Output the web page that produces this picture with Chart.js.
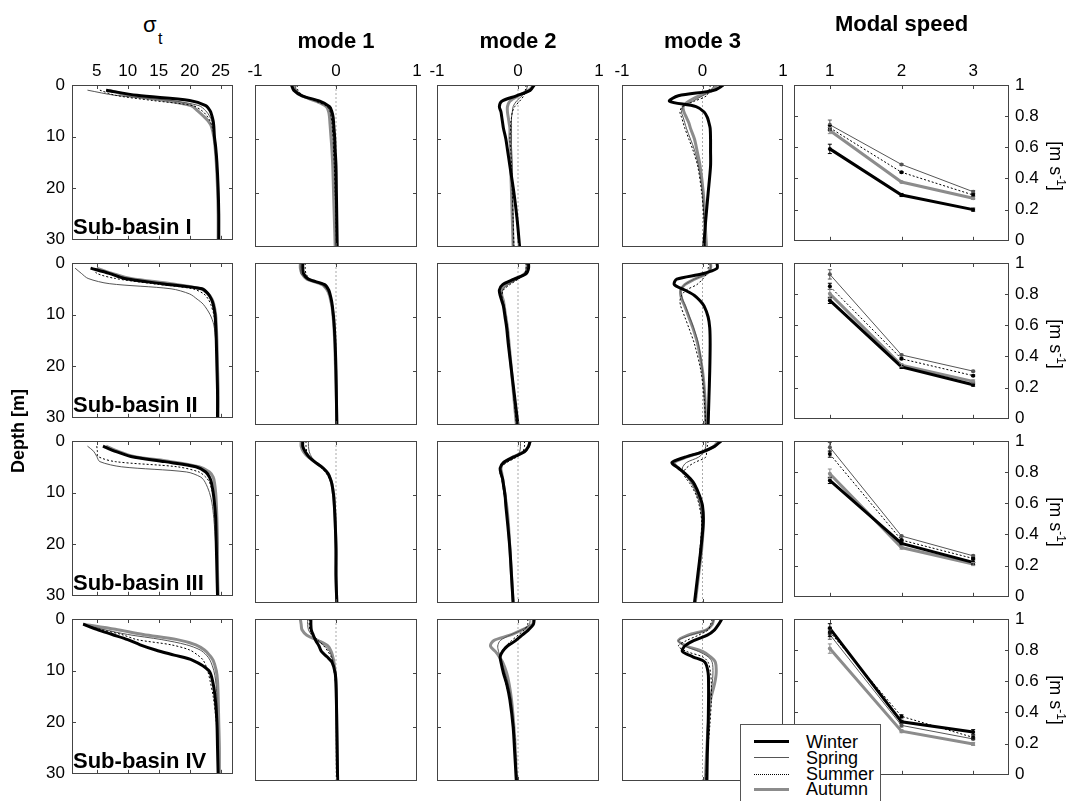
<!DOCTYPE html>
<html>
<head>
<meta charset="utf-8">
<script src="https://cdn.jsdelivr.net/npm/chart.js@4.4.1/dist/chart.umd.min.js"></script>
<style>
  html, body { margin: 0; padding: 0; background: #fff; }
  #fig { position: relative; width: 1075px; height: 801px; overflow: hidden;
         font-family: "Liberation Sans", Arial, Helvetica, sans-serif; color: #000; }
  #fig canvas { position: absolute; }
  .t { position: absolute; white-space: nowrap; line-height: 1; }
  .b { font-weight: bold; }
  #legend { position: absolute; left: 740px; top: 724px; width: 139px; height: 100px;
            background: #fff; border: 1px solid #555; z-index: 5; }
  #legend .sw { position: absolute; left: 13px; width: 35px; height: 0; }
  #legend .lt { position: absolute; left: 65px; font-size: 18px; line-height: 18px; }
</style>
</head>
<body>
<div id="fig"></div>
<script>
// depth levels (m) shared by all profiles
const depths = [0, 1, 2, 3, 4, 5, 6, 7, 8, 10, 12, 15, 20, 25, 30];
const seasons = ['Winter', 'Spring', 'Summer', 'Autumn'];
const basins = ['Sub-basin I', 'Sub-basin II', 'Sub-basin III', 'Sub-basin IV'];
const modes = [1, 2, 3];

// sigma-t profiles, rows = Winter, Spring, Summer, Autumn
const sigmaI = [
  [null, 6.5, 11.5, 20, 22.6, 23.3, 23.6, 23.8, 23.9, 24.0, 24.2, 24.4, 24.6, 24.7, 24.7],
  [null, 3.5, 8, 17, 21.5, 22.6, 23.2, 23.6, 23.8, 24.0, 24.2, 24.4, 24.6, 24.7, 24.7],
  [null, 5.5, 8, 14, 20.5, 22, 22.8, 23.3, 23.6, 24.0, 24.2, 24.4, 24.6, 24.7, 24.7],
  [null, 7, 10, 16, 20.2, 21.3, 22.2, 23, 23.5, 23.9, 24.1, 24.3, 24.5, 24.6, 24.6]
];
const sigmaII = [
  [null, 4, 7, 9.5, 15.5, 22, 23.0, 23.5, 23.8, 24.1, 24.2, 24.3, 24.4, 24.5, 24.5],
  [null, 1.5, 2.5, 3.6, 7, 17, 20, 21.2, 22.2, 23.3, 23.9, 24.2, 24.4, 24.5, 24.5],
  [null, 4.5, 5, 8, 14, 20.5, 22.3, 23, 23.4, 23.9, 24.1, 24.3, 24.4, 24.5, 24.5],
  [null, 5, 7.5, 10.5, 17, 21.8, 23, 23.6, 23.9, 24.2, 24.3, 24.4, 24.5, 24.6, 24.6]
];
const sigmaIII = [
  [null, 6, 8, 10.5, 16, 21, 22.6, 23.2, 23.5, 23.8, 24, 24.2, 24.3, 24.4, 24.5],
  [null, 3.5, 4.5, 5, 5.5, 9, 19.5, 21.8, 22.5, 23.2, 23.6, 23.9, 24.2, 24.4, 24.5],
  [null, 5, 5.1, 5.2, 8, 18, 21.5, 22.6, 23.2, 23.7, 24, 24.2, 24.3, 24.4, 24.5],
  [null, 6.5, 8.5, 11, 17, 21.5, 23.2, 23.8, 24, 24.2, 24.3, 24.4, 24.5, 24.5, 24.6]
];
const sigmaIV = [
  [null, 2.8, 5, 7.5, 10, 12, 14.5, 17.5, 20.5, 23.1, 23.7, 24.1, 24.4, 24.5, 24.6],
  [null, 2.8, 6, 10, 15.5, 19.5, 21.7, 22.7, 23.3, 23.9, 24.2, 24.4, 24.5, 24.6, 24.6],
  [null, 2.8, 5.5, 9, 11.5, 17, 20, 21.3, 22.2, 22.9, 23.3, 23.8, 24.3, 24.5, 24.6],
  [null, 2.8, 8, 12.5, 18, 21, 22.4, 23.2, 23.8, 24.3, 24.5, 24.6, 24.7, 24.8, 24.8]
];

// normalised vertical structure of mode 1
const mode1I = [
  [-0.55, -0.52, -0.42, -0.2, -0.08, -0.05, -0.035, -0.03, -0.025, -0.015, -0.01, 0, 0.005, 0.01, 0.015],
  [-0.5, -0.49, -0.4, -0.22, -0.1, -0.07, -0.06, -0.05, -0.045, -0.035, -0.03, -0.02, -0.01, 0, 0.005],
  [-0.48, -0.47, -0.4, -0.25, -0.11, -0.07, -0.06, -0.05, -0.045, -0.035, -0.03, -0.02, -0.01, 0, 0.005],
  [-0.52, -0.5, -0.42, -0.25, -0.12, -0.09, -0.08, -0.075, -0.07, -0.06, -0.05, -0.04, -0.03, -0.02, -0.01]
];
const mode1II = [
  [-0.41, -0.41, -0.4, -0.34, -0.14, -0.09, -0.07, -0.055, -0.045, -0.03, -0.02, -0.01, 0, 0.005, 0.01],
  [-0.44, -0.44, -0.43, -0.36, -0.18, -0.11, -0.08, -0.06, -0.05, -0.035, -0.025, -0.015, -0.005, 0.005, 0.01],
  [-0.38, -0.38, -0.37, -0.32, -0.16, -0.1, -0.08, -0.06, -0.05, -0.035, -0.025, -0.015, -0.005, 0.005, 0.01],
  [-0.44, -0.44, -0.42, -0.36, -0.17, -0.11, -0.08, -0.065, -0.05, -0.035, -0.025, -0.015, -0.005, 0.005, 0.01]
];
const mode1III = [
  [-0.41, -0.41, -0.38, -0.33, -0.25, -0.16, -0.1, -0.07, -0.05, -0.03, -0.02, -0.01, 0, 0, 0.01],
  [-0.34, -0.34, -0.33, -0.3, -0.24, -0.15, -0.1, -0.07, -0.05, -0.03, -0.02, -0.01, 0, 0, 0.01],
  [-0.37, -0.37, -0.36, -0.32, -0.26, -0.18, -0.12, -0.08, -0.055, -0.035, -0.02, -0.01, 0, 0, 0.01],
  [-0.43, -0.43, -0.4, -0.34, -0.25, -0.16, -0.1, -0.07, -0.05, -0.03, -0.02, -0.01, 0, 0, 0.01]
];
const mode1IV = [
  [-0.31, -0.31, -0.305, -0.28, -0.25, -0.21, -0.18, -0.11, -0.05, -0.01, 0, 0.005, 0.01, 0.015, 0.02],
  [-0.35, -0.35, -0.34, -0.3, -0.22, -0.14, -0.08, -0.05, -0.03, -0.015, -0.005, 0.005, 0.01, 0.015, 0.02],
  [-0.33, -0.33, -0.32, -0.28, -0.22, -0.15, -0.1, -0.06, -0.04, -0.02, -0.005, 0.005, 0.01, 0.015, 0.02],
  [-0.44, -0.43, -0.42, -0.36, -0.22, -0.1, -0.06, -0.04, -0.025, -0.01, 0, 0.005, 0.01, 0.015, 0.02]
];

// mode 2
const mode2I = [
  [0.2, 0.15, -0.02, -0.2, -0.23, -0.21, -0.2, -0.19, -0.18, -0.15, -0.13, -0.1, -0.05, -0.01, 0.02],
  [0.12, 0.1, 0.05, -0.02, -0.06, -0.07, -0.08, -0.08, -0.08, -0.08, -0.08, -0.07, -0.07, -0.06, -0.06],
  [0.1, 0.09, 0.07, 0.02, -0.04, -0.07, -0.08, -0.09, -0.09, -0.1, -0.09, -0.08, -0.07, -0.06, -0.05],
  [0.2, 0.13, 0.0, -0.1, -0.13, -0.13, -0.12, -0.11, -0.1, -0.1, -0.09, -0.09, -0.08, -0.07, -0.06]
];
const mode2II = [
  [0.13, 0.13, 0.1, -0.05, -0.19, -0.23, -0.22, -0.2, -0.18, -0.16, -0.14, -0.12, -0.08, -0.04, 0],
  [0.1, 0.1, 0.08, -0.01, -0.12, -0.19, -0.2, -0.19, -0.17, -0.15, -0.13, -0.11, -0.08, -0.05, -0.02],
  [0.1, 0.1, 0.08, 0.0, -0.1, -0.18, -0.2, -0.19, -0.17, -0.15, -0.13, -0.11, -0.08, -0.05, -0.02],
  [0.12, 0.12, 0.08, -0.03, -0.15, -0.2, -0.2, -0.18, -0.17, -0.15, -0.13, -0.11, -0.08, -0.05, -0.02]
];
const mode2III = [
  [0.15, 0.13, 0.08, -0.06, -0.18, -0.22, -0.21, -0.19, -0.18, -0.16, -0.15, -0.13, -0.1, -0.08, -0.06],
  [0.03, 0.03, 0.02, -0.03, -0.15, -0.22, -0.22, -0.2, -0.19, -0.17, -0.15, -0.13, -0.1, -0.08, -0.06],
  [0.08, 0.08, 0.06, -0.02, -0.14, -0.22, -0.22, -0.2, -0.19, -0.17, -0.15, -0.13, -0.1, -0.08, -0.06],
  [0.15, 0.13, 0.07, -0.07, -0.18, -0.21, -0.2, -0.19, -0.18, -0.16, -0.14, -0.12, -0.1, -0.08, -0.06]
];
const mode2IV = [
  [0.2, 0.19, 0.13, 0.05, -0.03, -0.13, -0.19, -0.22, -0.21, -0.18, -0.14, -0.1, -0.06, -0.04, -0.02],
  [0.15, 0.14, 0.05, -0.1, -0.22, -0.25, -0.24, -0.22, -0.2, -0.16, -0.12, -0.08, -0.05, -0.03, -0.01],
  [0.12, 0.12, 0.08, 0.0, -0.08, -0.15, -0.2, -0.22, -0.2, -0.18, -0.15, -0.1, -0.05, -0.03, -0.01],
  [0.19, 0.18, 0.05, -0.1, -0.3, -0.34, -0.28, -0.23, -0.19, -0.14, -0.11, -0.08, -0.05, -0.03, -0.02]
];

// mode 3
const mode3I = [
  [0.26, 0.14, -0.3, -0.41, -0.08, 0.02, 0.06, 0.08, 0.095, 0.1, 0.1, 0.1, 0.07, 0.04, 0.015],
  [0.15, 0.1, 0.0, -0.12, -0.24, -0.26, -0.24, -0.22, -0.2, -0.15, -0.1, -0.05, 0.0, 0.02, 0.04],
  [0.1, 0.08, 0.05, -0.1, -0.25, -0.28, -0.26, -0.24, -0.22, -0.17, -0.12, -0.06, -0.01, 0.02, 0.03],
  [0.18, 0.12, -0.04, -0.17, -0.24, -0.23, -0.2, -0.17, -0.15, -0.1, -0.07, -0.03, 0.01, 0.03, 0.05]
];
const mode3II = [
  [0.18, 0.18, 0.0, -0.32, -0.35, -0.22, -0.1, -0.03, 0.02, 0.07, 0.09, 0.095, 0.09, 0.08, 0.07],
  [0.1, 0.1, 0.05, -0.1, -0.22, -0.27, -0.26, -0.24, -0.21, -0.16, -0.11, -0.05, 0.0, 0.03, 0.04],
  [0.08, 0.07, 0.05, 0.0, -0.07, -0.2, -0.26, -0.28, -0.27, -0.22, -0.17, -0.1, -0.02, 0.02, 0.04],
  [0.1, 0.1, 0.05, -0.1, -0.22, -0.27, -0.27, -0.25, -0.22, -0.17, -0.12, -0.06, 0.0, 0.03, 0.04]
];
const mode3III = [
  [0.23, 0.15, 0.0, -0.22, -0.38, -0.3, -0.22, -0.15, -0.1, -0.04, 0.0, 0.01, -0.02, -0.06, -0.1],
  [0.04, 0.04, 0.02, -0.05, -0.2, -0.25, -0.23, -0.18, -0.13, -0.07, -0.03, -0.01, -0.03, -0.06, -0.1],
  [0.07, 0.06, 0.05, 0.04, -0.1, -0.2, -0.24, -0.2, -0.15, -0.08, -0.04, -0.01, -0.03, -0.06, -0.09],
  [0.2, 0.14, 0.0, -0.2, -0.35, -0.3, -0.22, -0.16, -0.11, -0.05, -0.01, 0.01, -0.01, -0.05, -0.09]
];
const mode3IV = [
  [0.24, 0.2, 0.15, 0.06, -0.11, -0.22, -0.25, -0.12, 0.03, 0.07, 0.075, 0.075, 0.07, 0.06, 0.055],
  [0.14, 0.12, 0.05, -0.15, -0.3, -0.22, -0.05, 0.07, 0.12, 0.13, 0.12, 0.09, 0.06, 0.05, 0.04],
  [0.12, 0.1, 0.07, -0.05, -0.2, -0.3, -0.2, 0.0, 0.07, 0.1, 0.11, 0.11, 0.09, 0.06, 0.04],
  [0.14, 0.12, 0.05, -0.18, -0.3, -0.2, 0.0, 0.1, 0.16, 0.17, 0.15, 0.1, 0.07, 0.05, 0.035]
];

// modal phase speed (m/s) for modes 1-3, and error half-widths
const speedI   = [[0.59, 0.294, 0.2], [0.745, 0.49, 0.315], [0.725, 0.44, 0.294], [0.708, 0.377, 0.273]];
const speedII  = [[0.76, 0.333, 0.219], [0.927, 0.41, 0.306], [0.85, 0.385, 0.277], [0.802, 0.344, 0.24]];
const speedIII = [[0.747, 0.343, 0.221], [0.96, 0.39, 0.263], [0.916, 0.364, 0.246], [0.79, 0.316, 0.21]];
const speedIV  = [[0.94, 0.34, 0.275], [0.9, 0.317, 0.23], [0.917, 0.375, 0.24], [0.81, 0.28, 0.198]];
const errI   = [[0.03, 0.01, 0.01], [0.03, 0.005, 0.008], [0.015, 0.005, 0.008], [0.02, 0.005, 0.008]];
const errII  = [[0.02, 0.01, 0.01], [0.03, 0.005, 0.005], [0.02, 0.005, 0.005], [0.03, 0.01, 0.01]];
const errIII = [[0.02, 0.01, 0.015], [0.03, 0.005, 0.005], [0.02, 0.005, 0.005], [0.03, 0.01, 0.01]];
const errIV  = [[0.03, 0.01, 0.015], [0.03, 0.01, 0.005], [0.03, 0.01, 0.01], [0.03, 0.01, 0.01]];

const sigmaTicks = [5, 10, 15, 20, 25];
const modeTicks = [-1, 0, 1];
const depthTicks = [0, 10, 20, 30];
const speedTicks = [0, 0.2, 0.4, 0.6, 0.8, 1];

const profiles = [
  [sigmaI, mode1I, mode2I, mode3I],
  [sigmaII, mode1II, mode2II, mode3II],
  [sigmaIII, mode1III, mode2III, mode3III],
  [sigmaIV, mode1IV, mode2IV, mode3IV]
];
const speeds = [speedI, speedII, speedIII, speedIV];
const errs = [errI, errII, errIII, errIV];

// ---- layout & style ----
const FONT = '"Liberation Sans", Arial, Helvetica, sans-serif';
const colX = [72, 255, 437, 622, 794];
const colW = [161, 162, 162, 161, 215];
const rowY = [85, 263, 441, 619];
const ROW_H = 162;
const PAD_L = 60, PAD_R = 60, PAD_T = 30, PAD_B = 10;

const style = [
  { color: '#000', width: 3, dash: [], order: 1 },
  { color: '#555', width: 1, dash: [], order: 3 },
  { color: '#000', width: 1, dash: [2, 2], order: 2 },
  { color: '#8c8c8c', width: 3, dash: [], order: 4 }
];

const fig = document.getElementById('fig');

const frame = {
  id: 'frame',
  afterDatasetsDraw(chart, args, opts) {
    const { ctx, chartArea: a, scales: { x, y } } = chart;
    ctx.save();
    // error bars
    if (opts.err) {
      opts.err.forEach((row, k) => {
        const meta = chart.getDatasetMeta(k);
        ctx.strokeStyle = style[k].color;
        ctx.lineWidth = 1;
        row.forEach((e, i) => {
          const pt = meta.data[i];
          const v = chart.data.datasets[k].data[i].y;
          const y1 = y.getPixelForValue(v - e), y2 = y.getPixelForValue(v + e);
          ctx.beginPath();
          ctx.moveTo(pt.x, y1); ctx.lineTo(pt.x, y2);
          ctx.moveTo(pt.x - 2, y1); ctx.lineTo(pt.x + 2, y1);
          ctx.moveTo(pt.x - 2, y2); ctx.lineTo(pt.x + 2, y2);
          ctx.stroke();
        });
      });
    }
    ctx.strokeStyle = '#444';
    ctx.lineWidth = 1;
    ctx.strokeRect(Math.round(a.left) + 0.5, Math.round(a.top) + 0.5,
                   Math.round(a.width) - 1, Math.round(a.height) - 1);
    ctx.beginPath();
    (opts.xTicks || []).forEach(v => {
      const px = Math.round(x.getPixelForValue(v)) + 0.5;
      ctx.moveTo(px, a.top); ctx.lineTo(px, a.top + 4);
      ctx.moveTo(px, a.bottom); ctx.lineTo(px, a.bottom - 4);
    });
    (opts.yTicks || []).forEach(v => {
      const py = Math.round(y.getPixelForValue(v)) + 0.5;
      ctx.moveTo(a.left, py); ctx.lineTo(a.left + 4, py);
      ctx.moveTo(a.right, py); ctx.lineTo(a.right - 4, py);
    });
    ctx.stroke();
    ctx.restore();
  }
};

const fmt = v => String(Math.round(v * 10) / 10);

function makeCanvas(row, col) {
  const cv = document.createElement('canvas');
  cv.width = colW[col] + PAD_L + PAD_R;
  cv.height = ROW_H + PAD_T + PAD_B;
  cv.style.left = (colX[col] - PAD_L) + 'px';
  cv.style.top = (rowY[row] - PAD_T) + 'px';
  fig.appendChild(cv);
  return cv;
}

function axisX(min, max, ticks, show) {
  return {
    type: 'linear', position: 'top', min, max,
    grid: { display: false, drawTicks: false }, border: { display: false },
    ticks: { display: show, color: '#000', font: { family: FONT, size: 17 }, padding: 3,
             maxRotation: 0, autoSkip: false, callback: fmt },
    afterBuildTicks: s => { s.ticks = ticks.map(v => ({ value: v })); },
    afterFit: s => { s.height = PAD_T; }
  };
}

function axisY(min, max, ticks, show, pos, reverse) {
  return {
    type: 'linear', position: pos, min, max, reverse,
    grid: { display: false, drawTicks: false }, border: { display: false },
    ticks: { display: show, color: '#000', font: { family: FONT, size: 17 }, padding: pos === 'left' ? 7 : 6,
             autoSkip: false, callback: fmt },
    afterBuildTicks: s => { s.ticks = ticks.map(v => ({ value: v })); },
    afterFit: s => { s.width = pos === 'left' ? PAD_L : PAD_R; }
  };
}

function profileChart(row, col) {
  const vals = profiles[row][col];
  const sets = seasons.map((s, k) => ({
    label: s,
    data: depths.map((d, i) => ({ x: vals[k][i], y: d })).filter(p => p.x !== null),
    showLine: true, pointRadius: 0, tension: 0.3,
    borderColor: style[k].color, borderWidth: style[k].width, borderDash: style[k].dash,
    order: style[k].order
  }));
  if (col > 0) {
    sets.push({ label: 'zero', data: [{ x: 0, y: 0 }, { x: 0, y: 30 }], showLine: true, pointRadius: 0,
                borderColor: '#aaa', borderWidth: 1, borderDash: [2, 2], order: 10 });
  }
  const xr = col === 0 ? [1, 27, sigmaTicks] : [-1, 1, modeTicks];
  new Chart(makeCanvas(row, col), {
    type: 'scatter',
    data: { datasets: sets },
    options: {
      responsive: false, animation: false,
      layout: { padding: { left: 0, right: PAD_R, top: 0, bottom: PAD_B } },
      plugins: { legend: { display: false }, tooltip: { enabled: false },
                 frame: { xTicks: col === 0 ? sigmaTicks : [0], yTicks: [10, 20] } },
      scales: {
        x: axisX(xr[0], xr[1], xr[2], row === 0),
        y: axisY(0, 30, depthTicks, col === 0, 'left', true)
      }
    },
    plugins: [frame]
  });
}

function speedChart(row) {
  const vals = speeds[row];
  const sets = seasons.map((s, k) => ({
    label: s,
    data: modes.map((m, i) => ({ x: m, y: vals[k][i] })),
    showLine: true, pointRadius: 2, pointBorderWidth: 0,
    pointBackgroundColor: style[k].color,
    borderColor: style[k].color, borderWidth: style[k].width, borderDash: style[k].dash,
    order: style[k].order
  }));
  new Chart(makeCanvas(row, 4), {
    type: 'scatter',
    data: { datasets: sets },
    options: {
      responsive: false, animation: false,
      layout: { padding: { left: PAD_L, right: 0, top: 0, bottom: PAD_B } },
      plugins: { legend: { display: false }, tooltip: { enabled: false },
                 frame: { xTicks: modes, yTicks: [0.2, 0.4, 0.6, 0.8], err: errs[row] } },
      scales: {
        x: axisX(0.5, 3.5, modes, row === 0),
        y: axisY(0, 1, speedTicks, true, 'right', false)
      }
    },
    plugins: [frame]
  });
}

for (let r = 0; r < 4; r++) {
  for (let c = 0; c < 4; c++) profileChart(r, c);
  speedChart(r);
}

// ---- texts ----
function text(html, x, y, css) {
  const d = document.createElement('div');
  d.className = 't';
  d.innerHTML = html;
  d.style.cssText += `left:${x}px;top:${y}px;` + (css || '');
  fig.appendChild(d);
  return d;
}

text('σ', 143, 14, 'font-size:22px;');
text('t', 158, 31, 'font-size:16px;');
['mode 1', 'mode 2', 'mode 3'].forEach((t, i) => {
  text(t, colX[i + 1] + colW[i + 1] / 2, 30, 'font-size:22px;font-weight:bold;transform:translateX(-50%);');
});
text('Modal speed', colX[4] + colW[4] / 2, 13, 'font-size:22px;font-weight:bold;transform:translateX(-50%);');
text('Depth [m]', 18, 431, 'font-size:18px;font-weight:bold;transform:translate(-50%,-50%) rotate(-90deg);');

basins.forEach((b, r) => {
  text(b, 73, rowY[r] + 131, 'font-size:22px;font-weight:bold;');
  text('[m s<sup style="font-size:12px;vertical-align:7px;">-1</sup>]', 1057, rowY[r] + 81,
       'font-size:18px;transform:translate(-50%,-50%) rotate(90deg);');
});

// legend
const lg = document.createElement('div');
lg.id = 'legend';
const lgY = [16, 32, 49, 64];
const lgT = [8, 24, 40, 55];
seasons.forEach((s, k) => {
  const sw = document.createElement('div');
  sw.className = 'sw';
  sw.style.top = (lgY[k] - Math.floor(style[k].width / 2)) + 'px';
  sw.style.borderTop = `${style[k].width}px ${k === 2 ? 'dotted' : 'solid'} ${style[k].color}`;
  lg.appendChild(sw);
  const lt = document.createElement('div');
  lt.className = 'lt';
  lt.style.top = lgT[k] + 'px';
  lt.textContent = s;
  lg.appendChild(lt);
});
fig.appendChild(lg);
</script>
</body>
</html>
